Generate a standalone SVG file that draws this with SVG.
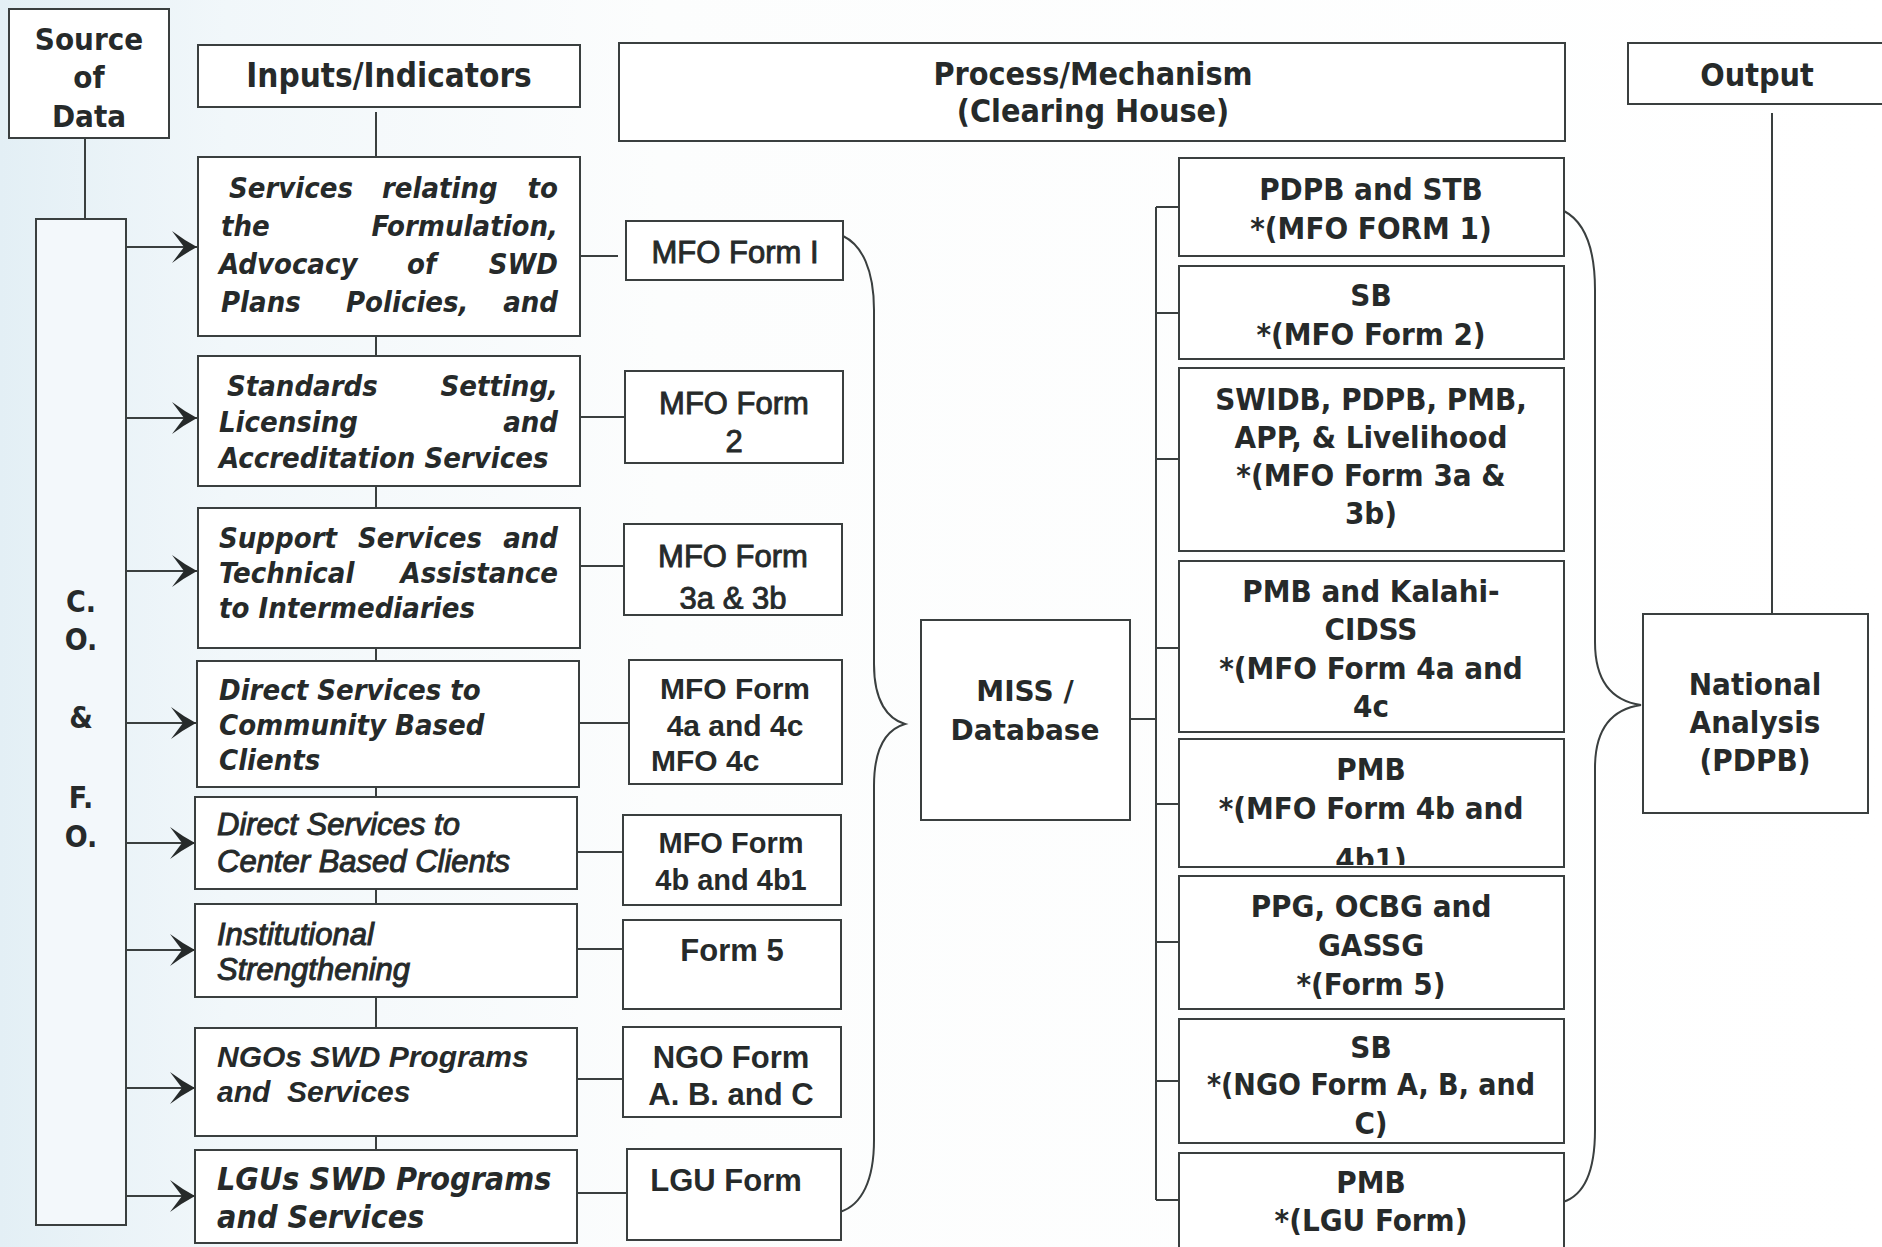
<svg xmlns="http://www.w3.org/2000/svg" width="1882" height="1247" viewBox="0 0 1882 1247">
<defs>
<linearGradient id="bg" x1="0" y1="0" x2="1" y2="0">
<stop offset="0" stop-color="#e3eff5"/>
<stop offset="0.12" stop-color="#f1f7fa"/>
<stop offset="0.35" stop-color="#fcfdfd"/>
<stop offset="1" stop-color="#ffffff"/>
</linearGradient>
<marker id="arr" markerUnits="userSpaceOnUse" markerWidth="30" markerHeight="36" viewBox="-27 -18 29 36" refX="0" refY="0" orient="auto">
<path d="M0,0 Q-13,-7 -25,-16 L-13,0 L-25,16 Q-13,7 0,0 Z" fill="#262a2a"/>
</marker>
<clipPath id="cF3"><rect x="624" y="524" width="218" height="85"/></clipPath>
<clipPath id="cR2"><rect x="1179" y="266" width="385" height="91"/></clipPath>
<clipPath id="cR5"><rect x="1179" y="739" width="385" height="126"/></clipPath>
<clipPath id="cR7"><rect x="1179" y="1019" width="385" height="122"/></clipPath>
<clipPath id="cI6"><rect x="195" y="904" width="382" height="91"/></clipPath>
</defs>
<style>
.box{fill:#ffffff;stroke:#3a3f3f;stroke-width:2}
.cbox{fill:#f3f8fb;stroke:#3a3f3f;stroke-width:2}
.ln{fill:none;stroke:#3a3f3f;stroke-width:2}
.hd{font-family:"DejaVu Sans Condensed","DejaVu Sans",sans-serif;font-stretch:condensed;font-weight:bold;fill:#262a2a}
.h32{font-size:32px;text-anchor:middle}
.rb{font-size:31px;text-anchor:middle}
.it{font-family:"DejaVu Sans Condensed","DejaVu Sans",sans-serif;font-stretch:condensed;font-weight:bold;font-style:oblique;font-size:29px;fill:#262a2a}
.ar{font-family:"Liberation Sans",Arial,sans-serif;fill:#262a2a}
.ari{font-style:italic;font-size:31px;stroke:#262a2a;stroke-width:1}
.arbi{font-style:italic;font-weight:bold;font-size:30px}
.fm{font-size:31px;text-anchor:middle;stroke:#262a2a;stroke-width:0.9}
.fb{font-size:31px;text-anchor:middle;font-weight:bold}
.e{text-anchor:end}
</style>
<rect x="0" y="0" width="1882" height="1247" fill="url(#bg)"/>

<g id="connectors">
<line class="ln" x1="85" y1="138" x2="85" y2="219"/>
<line class="ln" x1="376" y1="112" x2="376" y2="157"/>
<line class="ln" x1="376" y1="336" x2="376" y2="356"/>
<line class="ln" x1="376" y1="486" x2="376" y2="508"/>
<line class="ln" x1="376" y1="648" x2="376" y2="661"/>
<line class="ln" x1="376" y1="787" x2="376" y2="797"/>
<line class="ln" x1="376" y1="889" x2="376" y2="904"/>
<line class="ln" x1="376" y1="997" x2="376" y2="1028"/>
<line class="ln" x1="376" y1="1136" x2="376" y2="1150"/>
<line class="ln" x1="126" y1="247" x2="197" y2="247" marker-end="url(#arr)"/>
<line class="ln" x1="126" y1="418" x2="197" y2="418" marker-end="url(#arr)"/>
<line class="ln" x1="126" y1="571" x2="197" y2="571" marker-end="url(#arr)"/>
<line class="ln" x1="126" y1="723" x2="196" y2="723" marker-end="url(#arr)"/>
<line class="ln" x1="126" y1="843" x2="195" y2="843" marker-end="url(#arr)"/>
<line class="ln" x1="126" y1="950" x2="195" y2="950" marker-end="url(#arr)"/>
<line class="ln" x1="126" y1="1088" x2="195" y2="1088" marker-end="url(#arr)"/>
<line class="ln" x1="126" y1="1196" x2="195" y2="1196" marker-end="url(#arr)"/>
<line class="ln" x1="580" y1="256" x2="618" y2="256"/>
<line class="ln" x1="580" y1="417" x2="625" y2="417"/>
<line class="ln" x1="580" y1="566" x2="624" y2="566"/>
<line class="ln" x1="579" y1="723" x2="629" y2="723"/>
<line class="ln" x1="577" y1="852" x2="623" y2="852"/>
<line class="ln" x1="577" y1="949" x2="623" y2="949"/>
<line class="ln" x1="577" y1="1079" x2="623" y2="1079"/>
<line class="ln" x1="577" y1="1193" x2="627" y2="1193"/>
<path class="ln" d="M843,236 C862,245 874,270 874,310 L874,664 C874,702 888,719 905,724 C888,729 874,746 874,786 L874,1140 C874,1180 862,1205 840,1212"/>
<line class="ln" x1="1130" y1="719" x2="1156" y2="719"/>
<line class="ln" x1="1156" y1="207" x2="1156" y2="1200"/>
<line class="ln" x1="1156" y1="207" x2="1179" y2="207"/>
<line class="ln" x1="1156" y1="313" x2="1179" y2="313"/>
<line class="ln" x1="1156" y1="459" x2="1179" y2="459"/>
<line class="ln" x1="1156" y1="648" x2="1179" y2="648"/>
<line class="ln" x1="1156" y1="804" x2="1179" y2="804"/>
<line class="ln" x1="1156" y1="942" x2="1179" y2="942"/>
<line class="ln" x1="1156" y1="1081" x2="1179" y2="1081"/>
<line class="ln" x1="1156" y1="1200" x2="1179" y2="1200"/>
<path class="ln" d="M1564,211 C1585,222 1595,250 1595,290 L1595,642 C1595,682 1613,701 1641,705 C1613,709 1595,728 1595,768 L1595,1130 C1595,1170 1585,1195 1563,1202"/>
<line class="ln" x1="1772" y1="113" x2="1772" y2="614"/>
</g>

<g id="source-of-data">
<rect class="box" x="9" y="9" width="160" height="129"/>
<text class="hd h32" x="89" y="50" style="font-size:31px">Source</text>
<text class="hd h32" x="89" y="88" style="font-size:31px">of</text>
<text class="hd h32" x="89" y="127" style="font-size:31px">Data</text>
</g>

<g id="co-fo">
<rect class="cbox" x="36" y="219" width="90" height="1006"/>
<text class="hd h32" x="81" y="612" style="font-size:30px">C.</text>
<text class="hd h32" x="81" y="650" style="font-size:30px">O.</text>
<text class="hd h32" x="81" y="728" style="font-size:30px">&amp;</text>
<text class="hd h32" x="81" y="808" style="font-size:30px">F.</text>
<text class="hd h32" x="81" y="847" style="font-size:30px">O.</text>
</g>

<g id="inputs-indicators">
<rect class="box" x="198" y="45" width="382" height="62"/>
<text class="hd h32" x="389" y="87" style="font-size:33px">Inputs/Indicators</text>
</g>

<g id="process-mechanism">
<rect class="box" x="619" y="43" width="946" height="98"/>
<text class="hd h32" x="1093" y="85">Process/Mechanism</text>
<text class="hd h32" x="1093" y="122">(Clearing House)</text>
</g>

<g id="output">
<rect class="box" x="1628" y="43" width="270" height="61"/>
<text class="hd h32" x="1757" y="86">Output</text>
</g>

<g id="input-1">
<rect class="box" x="198" y="157" width="382" height="179"/>
<text class="it" x="229" y="198">Services</text>
<text class="it" x="382" y="198">relating</text>
<text class="it e" x="558" y="198">to</text>
<text class="it" x="221" y="236">the</text>
<text class="it e" x="558" y="236">Formulation,</text>
<text class="it" x="219" y="274">Advocacy</text>
<text class="it" x="407" y="274">of</text>
<text class="it e" x="558" y="274">SWD</text>
<text class="it" x="221" y="312">Plans</text>
<text class="it" x="346" y="312">Policies,</text>
<text class="it e" x="558" y="312">and</text>
</g>

<g id="input-2">
<rect class="box" x="198" y="356" width="382" height="130"/>
<text class="it" x="227" y="396">Standards</text>
<text class="it e" x="558" y="396">Setting,</text>
<text class="it" x="219" y="432">Licensing</text>
<text class="it e" x="558" y="432">and</text>
<text class="it" x="219" y="468">Accreditation Services</text>
</g>

<g id="input-3">
<rect class="box" x="198" y="508" width="382" height="140"/>
<text class="it" x="219" y="548">Support</text>
<text class="it" x="358" y="548">Services</text>
<text class="it e" x="558" y="548">and</text>
<text class="it" x="219" y="583">Technical</text>
<text class="it e" x="558" y="583">Assistance</text>
<text class="it" x="219" y="618">to Intermediaries</text>
</g>

<g id="input-4">
<rect class="box" x="197" y="661" width="382" height="126"/>
<text class="it" x="219" y="700">Direct Services to</text>
<text class="it" x="219" y="735">Community Based</text>
<text class="it" x="219" y="770">Clients</text>
</g>

<g id="input-5">
<rect class="box" x="195" y="797" width="382" height="92"/>
<text class="ar ari" x="217" y="835">Direct Services to</text>
<text class="ar ari" x="217" y="872">Center Based Clients</text>
</g>

<g id="input-6">
<rect class="box" x="195" y="904" width="382" height="93"/>
<text class="ar ari" x="217" y="945">Institutional</text>
<text class="ar ari" x="217" y="980" clip-path="url(#cI6)">Strengthening</text>
</g>

<g id="input-7">
<rect class="box" x="195" y="1028" width="382" height="108"/>
<text class="ar arbi" x="217" y="1067">NGOs SWD Programs</text>
<text class="ar arbi" x="217" y="1102" style="white-space:pre">and  Services</text>
</g>

<g id="input-8">
<rect class="box" x="195" y="1150" width="382" height="93"/>
<text class="it" x="217" y="1190" style="font-size:32px">LGUs SWD Programs</text>
<text class="it" x="217" y="1228" style="font-size:32px">and Services</text>
</g>

<g id="form-1">
<rect class="box" x="626" y="221" width="217" height="59"/>
<text class="ar fm" x="735" y="263">MFO Form I</text>
</g>

<g id="form-2">
<rect class="box" x="625" y="371" width="218" height="92"/>
<text class="ar fm" x="734" y="414">MFO Form</text>
<text class="ar fm" x="734" y="452">2</text>
</g>

<g id="form-3">
<rect class="box" x="624" y="524" width="218" height="91"/>
<text class="ar fm" x="733" y="567">MFO Form</text>
<text class="ar fm" x="733" y="609" clip-path="url(#cF3)">3a &amp; 3b</text>
</g>

<g id="form-4">
<rect class="box" x="629" y="660" width="213" height="124"/>
<text class="ar fb" x="735" y="699" style="font-size:30px">MFO Form</text>
<text class="ar fb" x="735" y="736" style="font-size:30px">4a and 4c</text>
<text class="ar fb" x="651" y="771" style="font-size:30px;text-anchor:start">MFO 4c</text>
</g>

<g id="form-5">
<rect class="box" x="623" y="815" width="218" height="90"/>
<text class="ar fb" x="731" y="853" style="font-size:29px">MFO Form</text>
<text class="ar fb" x="731" y="890" style="font-size:29px">4b and 4b1</text>
</g>

<g id="form-6">
<rect class="box" x="623" y="920" width="218" height="89"/>
<text class="ar fb" x="732" y="961">Form 5</text>
</g>

<g id="form-7">
<rect class="box" x="623" y="1027" width="218" height="90"/>
<text class="ar fb" x="731" y="1068">NGO Form</text>
<text class="ar fb" x="731" y="1105">A. B. and C</text>
</g>

<g id="form-8">
<rect class="box" x="627" y="1149" width="214" height="91"/>
<text class="ar fb" x="726" y="1191">LGU Form</text>
</g>

<g id="miss-database">
<rect class="box" x="921" y="620" width="209" height="200"/>
<text x="1025" y="701" style="font-family:'DejaVu Sans',sans-serif;font-weight:bold;font-size:28px;text-anchor:middle;fill:#262a2a">MISS /</text>
<text x="1025" y="740" style="font-family:'DejaVu Sans',sans-serif;font-weight:bold;font-size:28px;text-anchor:middle;fill:#262a2a">Database</text>
</g>

<g id="out-1">
<rect class="box" x="1179" y="158" width="385" height="98"/>
<text class="hd rb" x="1371" y="200">PDPB and STB</text>
<text class="hd rb" x="1371" y="239">*(MFO FORM 1)</text>
</g>

<g id="out-2">
<rect class="box" x="1179" y="266" width="385" height="93"/>
<text class="hd rb" x="1371" y="306">SB</text>
<text class="hd rb" x="1371" y="345" clip-path="url(#cR2)">*(MFO Form 2)</text>
</g>

<g id="out-3">
<rect class="box" x="1179" y="368" width="385" height="183"/>
<text class="hd rb" x="1371" y="410">SWIDB, PDPB, PMB,</text>
<text class="hd rb" x="1371" y="448">APP, &amp; Livelihood</text>
<text class="hd rb" x="1371" y="486">*(MFO Form 3a &amp;</text>
<text class="hd rb" x="1371" y="524">3b)</text>
</g>

<g id="out-4">
<rect class="box" x="1179" y="561" width="385" height="171"/>
<text class="hd rb" x="1371" y="602">PMB and Kalahi-</text>
<text class="hd rb" x="1371" y="640">CIDSS</text>
<text class="hd rb" x="1371" y="679">*(MFO Form 4a and</text>
<text class="hd rb" x="1371" y="717">4c</text>
</g>

<g id="out-5">
<rect class="box" x="1179" y="739" width="385" height="128"/>
<text class="hd rb" x="1371" y="780">PMB</text>
<text class="hd rb" x="1371" y="819">*(MFO Form 4b and</text>
<text class="hd rb" x="1371" y="870" clip-path="url(#cR5)">4b1)</text>
</g>

<g id="out-6">
<rect class="box" x="1179" y="876" width="385" height="133"/>
<text class="hd rb" x="1371" y="917">PPG, OCBG and</text>
<text class="hd rb" x="1371" y="956">GASSG</text>
<text class="hd rb" x="1371" y="995">*(Form 5)</text>
</g>

<g id="out-7">
<rect class="box" x="1179" y="1019" width="385" height="124"/>
<text class="hd rb" x="1371" y="1058">SB</text>
<text class="hd rb" x="1371" y="1095" style="font-size:30px">*(NGO Form A, B, and</text>
<text class="hd rb" x="1371" y="1134" clip-path="url(#cR7)">C)</text>
</g>

<g id="out-8">
<rect class="box" x="1179" y="1153" width="385" height="109"/>
<text class="hd rb" x="1371" y="1193">PMB</text>
<text class="hd rb" x="1371" y="1231">*(LGU Form)</text>
</g>

<g id="national-analysis">
<rect class="box" x="1643" y="614" width="225" height="199"/>
<text class="hd rb" x="1755" y="695">National</text>
<text class="hd rb" x="1755" y="733">Analysis</text>
<text class="hd rb" x="1755" y="771">(PDPB)</text>
</g>
</svg>
